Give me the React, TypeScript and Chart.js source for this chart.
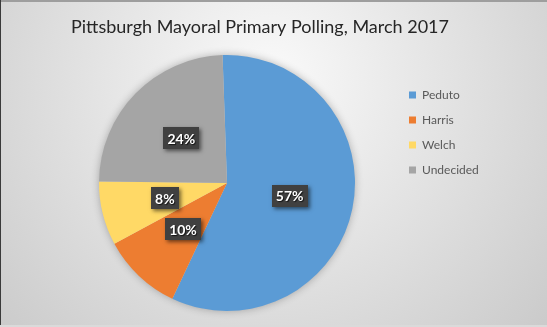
import React, { useEffect, useRef } from "react";
import { Chart, registerables } from "chart.js";

Chart.register(...registerables);

const TITLE = "Pittsburgh Mayoral Primary Polling, March 2017";
const candidates = ["Peduto", "Harris", "Welch", "Undecided"];
const pollShares = [57, 10, 8, 24];
const sliceColors = ["#5B9BD5", "#ED7D31", "#FFD966", "#A5A5A5"];

const backgroundPlugin = {
  id: "bgGradient",
  beforeDraw(chart: any) {
    const { ctx, width, height } = chart;
    ctx.save();
    ctx.fillStyle = "#D0D0D0";
    ctx.fillRect(0, 0, width, height);
    const g = ctx.createRadialGradient(270, 80, 0, 270, 80, 420);
    g.addColorStop(0, "#FAFAFA");
    g.addColorStop(1, "#C4C4C4");
    ctx.fillStyle = g;
    ctx.fillRect(0, 0, width, height);
    ctx.fillStyle = "#9E9E9E";
    ctx.fillRect(0, 0, width, 2);
    ctx.fillStyle = "#3A3A3A";
    ctx.fillRect(0, 0, 1, height);
    ctx.fillStyle = "#DADADA";
    ctx.fillRect(0, height - 2, width, 2);
    ctx.restore();
  },
};

const pieShadowPlugin = {
  id: "pieShadow",
  beforeDatasetsDraw(chart: any) {
    const meta = chart.getDatasetMeta(0);
    const arc = meta.data[0];
    if (!arc) return;
    const { ctx } = chart;
    ctx.save();
    ctx.shadowColor = "rgba(0,0,0,0.3)";
    ctx.shadowBlur = 8;
    ctx.fillStyle = "#D0D0D0";
    ctx.beginPath();
    ctx.arc(arc.x, arc.y, arc.outerRadius - 0.5, 0, Math.PI * 2);
    ctx.fill();
    ctx.restore();
  },
};

const boxLabelPlugin = {
  id: "boxLabels",
  afterDatasetsDraw(chart: any) {
    const { ctx } = chart;
    const meta = chart.getDatasetMeta(0);
    const values = chart.data.datasets[0].data as number[];
    ctx.save();
    ctx.font = "bold 14px Lato";
    ctx.textAlign = "center";
    ctx.textBaseline = "middle";
    meta.data.forEach((arc: any, i: number) => {
      const { x, y } = arc.getCenterPoint();
      const text = `${values[i]}%`;
      const w = ctx.measureText(text).width + 8;
      const h = 22;
      ctx.save();
      ctx.shadowColor = "rgba(0,0,0,0.55)";
      ctx.shadowBlur = 4;
      ctx.shadowOffsetX = 2;
      ctx.shadowOffsetY = 2;
      ctx.fillStyle = "#404040";
      ctx.fillRect(Math.round(x - w / 2), Math.round(y - h / 2), Math.round(w), h);
      ctx.restore();
      ctx.save();
      ctx.shadowColor = "rgba(0,0,0,0.7)";
      ctx.shadowBlur = 1;
      ctx.shadowOffsetX = 1;
      ctx.shadowOffsetY = 1;
      ctx.fillStyle = "#FFFFFF";
      ctx.fillText(text, x, y + 1);
      ctx.restore();
    });
    ctx.restore();
  },
};

export default function App() {
  const ref = useRef<HTMLCanvasElement | null>(null);
  useEffect(() => {
    document.body.style.margin = "0";
    document.body.style.overflow = "hidden";
    document.body.style.background = "#C8C8C8";
    if (!ref.current) return;
    const chart = new Chart(ref.current, {
      type: "pie",
      data: {
        labels: candidates,
        datasets: [
          {
            data: pollShares,
            backgroundColor: sliceColors,
            borderWidth: 0,
            hoverOffset: 0,
          },
        ],
      },
      options: {
        responsive: false,
        animation: false,
        events: [],
        rotation: -2,
        layout: { padding: { left: 38, right: 65, top: 0, bottom: 16 } },
        plugins: {
          tooltip: { enabled: false },
          title: {
            display: true,
            text: TITLE,
            color: "#262626",
            font: { family: "Lato", size: 18, weight: "normal" },
            padding: { top: 16, bottom: 17.4 },
          },
          subtitle: {
            display: true,
            text: "",
            position: "left",
            font: { size: 20, lineHeight: 1 },
            padding: 0,
          },
          legend: {
            display: true,
            position: "right",
            align: "start",
            maxWidth: 86,
            title: { display: true, text: "", font: { size: 76, lineHeight: 1 }, padding: 0 },
            labels: {
              boxWidth: 7,
              boxHeight: 7,
              padding: 13,
              color: "#595959",
              font: { family: "Lato", size: 12 },
            },
          },
        },
      } as any,
      plugins: [backgroundPlugin, pieShadowPlugin, boxLabelPlugin],
    });
    return () => chart.destroy();
  }, []);
  return (
    <div style={{ position: "fixed", left: 0, top: 0, width: 547, height: 327 }}>
      <canvas ref={ref} width={547} height={327} style={{ display: "block" }} />
    </div>
  );
}
